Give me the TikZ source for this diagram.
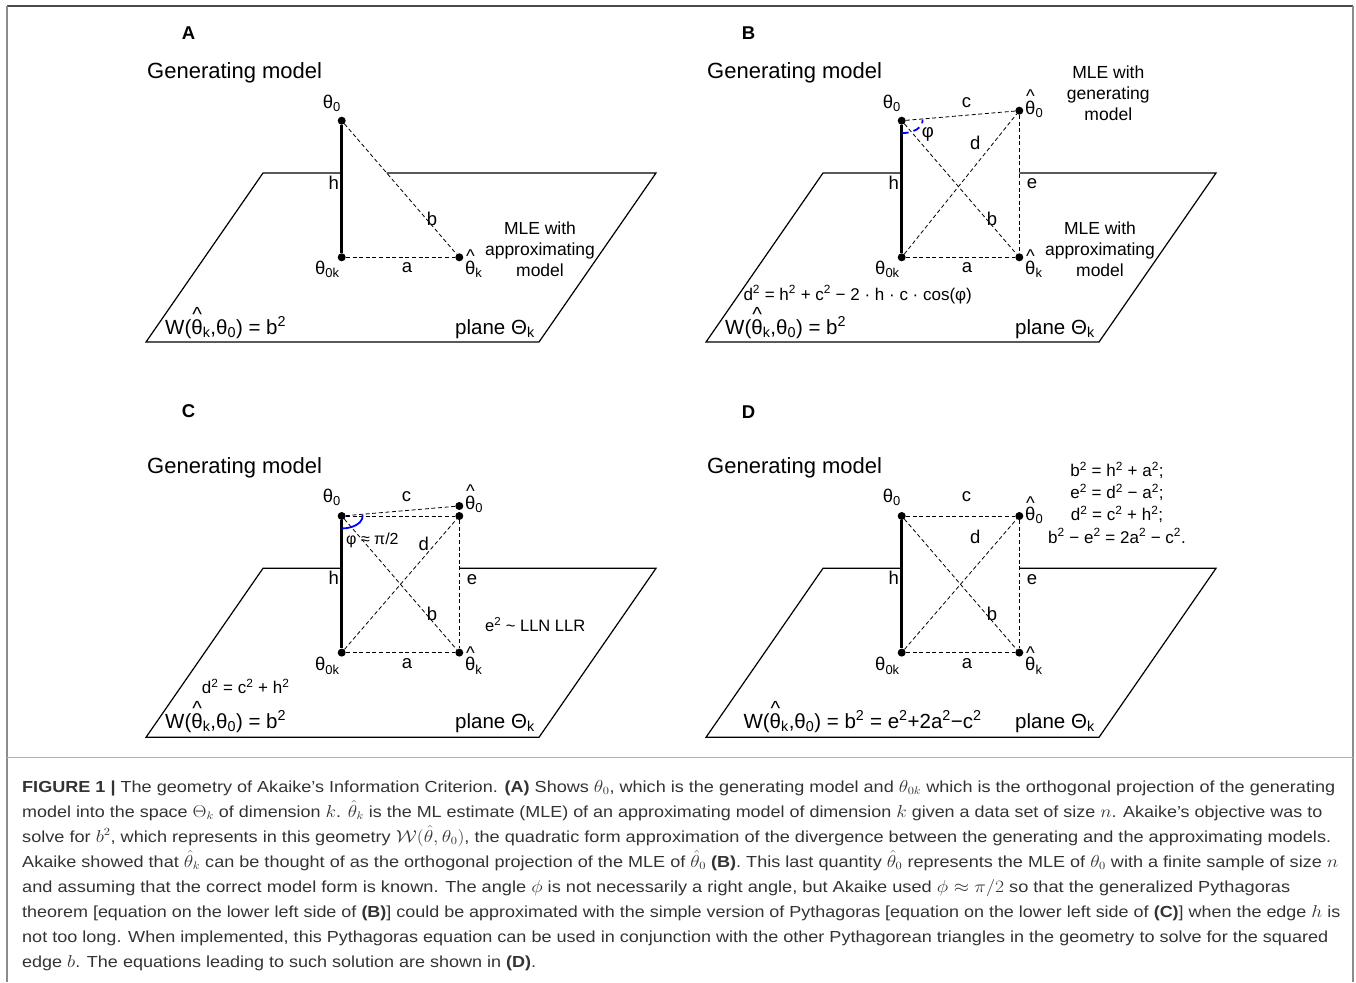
\documentclass[tikz,border=0pt]{standalone}
\usepackage{fontspec}
\setmainfont{Liberation Sans}
\usepackage{amsmath}
\usepackage{graphicx}

\newcommand\thhat{\ooalign{θ\cr\hidewidth\raisebox{0.62em}{\textasciicircum}\hidewidth\cr}}
\newcommand\capfit[2]{\resizebox{#1pt}{\height}{#2}}

\begin{document}
\begin{tikzpicture}[x=1pt, y=-1pt,
  vtx/.style={circle, fill, inner sep=0pt, minimum size=8pt},
  proj/.style={line width=2.6pt},
  dashln/.style={line width=0.8pt, dash pattern=on 4pt off 2.6pt},
  planeln/.style={line width=1.2pt},
  phiarc/.style={blue, line width=1.8pt},
  lbl/.style={anchor=base west, inner sep=0pt, font=\fontsize{18.5}{21}\selectfont},
  botlbl/.style={lbl, font=\fontsize{20.5}{23}\selectfont},
  eqn/.style={lbl, font=\fontsize{17}{22.2}\selectfont},
  genlbl/.style={lbl, font=\fontsize{22}{25}\selectfont},
  paneltag/.style={lbl, font=\fontsize{18.5}{21}\selectfont\bfseries},
  mle/.style={align=center, anchor=north, inner sep=0pt, font=\fontsize{17.5}{21}\selectfont},
  capln/.style={anchor=base west, inner sep=0pt, text=black!80, font=\fontsize{16}{25}\selectfont}]

  \useasboundingbox (0,0) rectangle (1356,982);

  % frame round figure and caption
  \coordinate (fr-tl) at (7,6);
  \coordinate (fr-tr) at (1353,6);
  \coordinate (fr-bl) at (7,982);
  \coordinate (fr-br) at (1353,982);
  \draw [line width=2pt, black!70] (fr-tl) -- (fr-tr);
  \draw [line width=2pt, black!45] (fr-tl) -- (fr-bl);
  \draw [line width=2pt, black!45] (fr-tr) -- (fr-br);
  \draw [line width=1pt, black!30] (fr-tl |- 0,757) -- (fr-tr |- 0,757);

  \node [paneltag] (tagA) at (181.7,40) {A};
  \node [paneltag] (tagB) at (741.7,40) {B};
  \node [paneltag] (tagC) at (181.7,417) {C};
  \node [paneltag] (tagD) at (741.7,418) {D};

  % panel A
  \begin{scope}[name prefix=A-]
    \node [genlbl] (gen) at (147,78.3) {Generating model};
    \node [vtx] (t0) at (341.7,120.7) {};
    \node [vtx] (t0k) at (341.7,257.3) {};
    \node [vtx] (tk) at (459.3,257.3) {};
    \coordinate (p1) at (146,342);
    \coordinate (p2) at (263,173);
    \coordinate (p3) at (656,173);
    \coordinate (p4) at (539,342);
    \coordinate (gap) at (386.7,173);
    \draw [planeln] (t0k |- p2) -- (p2) -- (p1) -- (p4) -- (p3) -- (gap);
    \draw [proj] (t0) -- (t0k);
    \draw [dashln] (t0) -- (tk);
    \draw [dashln] (t0k) -- (tk);
    \node [lbl] (l0) at (322.7,108.5) {θ\textsubscript{0}};
    \node [lbl] (lh) at (328.3,189.5) {h};
    \node [lbl] (lb) at (426.7,225.5) {b};
    \node [lbl] (la) at (401.7,272.8) {a};
    \node [lbl] (l0k) at (315,274) {θ\textsubscript{0k}};
    \node [lbl] (lk) at (465,274) {\thhat\textsubscript{k}};
    \node [mle] (mle) at (540,221.3) {MLE with\\approximating\\model};
    \node [botlbl] (w) at (165,334.5) {W(\thhat\textsubscript{k},θ\textsubscript{0}) = b\textsuperscript{2}};
    \node [botlbl] (pl) at (455,334.5) {plane Θ\textsubscript{k}};
  \end{scope}

  % panel B
  \begin{scope}[shift={(560,0)}, name prefix=B-]
    \node [genlbl] (gen) at (147,78.3) {Generating model};
    \node [vtx] (t0) at (341.7,120.7) {};
    \node [vtx] (t0k) at (341.7,257.3) {};
    \node [vtx] (tk) at (459.3,257.3) {};
    \node [vtx] (th0) at (459.3,110.7) {};
    \coordinate (p1) at (146,342);
    \coordinate (p2) at (263,173);
    \coordinate (p3) at (656,173);
    \coordinate (p4) at (539,342);
    \draw [planeln] (t0k |- p2) -- (p2) -- (p1) -- (p4) -- (p3) -- (tk |- p3);
    \draw [proj] (t0) -- (t0k);
    \draw [dashln] (t0) -- (th0);
    \draw [dashln] (t0) -- (tk);
    \draw [dashln] (t0k) -- (th0);
    \draw [dashln] (th0) -- (tk);
    \draw [dashln] (t0k) -- (tk);
    \draw [phiarc, dash pattern=on 7pt off 5pt] ([yshift=-12.5pt]t0.center)
      arc [start angle=-90, end angle=5, x radius=21pt, y radius=12.5pt];
    \node [lbl] (l0) at (322.7,108.5) {θ\textsubscript{0}};
    \node [lbl] (lc) at (401.7,107.3) {c};
    \node [lbl] (lh0) at (465,114.3) {\thhat\textsubscript{0}};
    \node [lbl] (lphi) at (361.7,137.5) {φ};
    \node [lbl] (ld) at (410,149) {d};
    \node [lbl] (lh) at (328.3,189.5) {h};
    \node [lbl] (le) at (466.7,188.5) {e};
    \node [lbl] (lb) at (426.7,225.5) {b};
    \node [lbl] (la) at (401.7,272.8) {a};
    \node [lbl] (l0k) at (315,274) {θ\textsubscript{0k}};
    \node [lbl] (lk) at (465,274) {\thhat\textsubscript{k}};
    \node [mle] (mleg) at (548.3,65.3) {MLE with\\generating\\model};
    \node [mle] (mle) at (540,221.3) {MLE with\\approximating\\model};
    \node [eqn] (cos) at (183.3,300) {d\textsuperscript{2} = h\textsuperscript{2} + c\textsuperscript{2} − 2 · h · c · cos(φ)};
    \node [botlbl] (w) at (165,334.5) {W(\thhat\textsubscript{k},θ\textsubscript{0}) = b\textsuperscript{2}};
    \node [botlbl] (pl) at (455,334.5) {plane Θ\textsubscript{k}};
  \end{scope}

  % panel C
  \begin{scope}[shift={(0,395.3)}, name prefix=C-]
    \node [genlbl] (gen) at (147,78.3) {Generating model};
    \node [vtx] (t0) at (341.7,120.7) {};
    \node [vtx] (t0k) at (341.7,257.3) {};
    \node [vtx] (tk) at (459.3,257.3) {};
    \node [vtx] (th0) at (459.3,110.7) {};
    \node [vtx] (cr) at (459.3,120.7) {};
    \coordinate (p1) at (146,342);
    \coordinate (p2) at (263,173);
    \coordinate (p3) at (656,173);
    \coordinate (p4) at (539,342);
    \draw [planeln] (t0k |- p2) -- (p2) -- (p1) -- (p4) -- (p3) -- (tk |- p3);
    \draw [proj] (t0) -- (t0k);
    \draw [dashln] (t0) -- (th0);
    \draw [dashln] (t0) -- (cr);
    \draw [dashln] (t0) -- (tk);
    \draw [dashln] (t0k) -- (cr);
    \draw [dashln] (cr) -- (tk);
    \draw [dashln] (t0k) -- (tk);
    \draw [phiarc] ([yshift=-12.5pt]t0.center)
      arc [start angle=-90, end angle=5, x radius=21pt, y radius=12.5pt];
    \node [lbl] (l0) at (322.7,107) {θ\textsubscript{0}};
    \node [lbl] (lc) at (401.7,106.4) {c};
    \node [lbl] (lh0) at (465,114) {\thhat\textsubscript{0}};
    \node [eqn, font=\fontsize{16}{19}\selectfont] (lphi) at (346,148.7) {φ ≈ π/2};
    \node [lbl] (ld) at (418.3,155.4) {d};
    \node [lbl] (lh) at (328.3,189) {h};
    \node [lbl] (le) at (466.7,189) {e};
    \node [lbl] (lb) at (426.7,225) {b};
    \node [eqn, font=\fontsize{16.5}{19}\selectfont] (llr) at (485,236.4) {e\textsuperscript{2} \textasciitilde{} LLN LLR};
    \node [lbl] (la) at (401.7,273) {a};
    \node [lbl] (l0k) at (315,275.5) {θ\textsubscript{0k}};
    \node [lbl] (lk) at (465,275.5) {\thhat\textsubscript{k}};
    \node [eqn] (pyth) at (201.7,298) {d\textsuperscript{2} = c\textsuperscript{2} + h\textsuperscript{2}};
    \node [botlbl] (w) at (165,333) {W(\thhat\textsubscript{k},θ\textsubscript{0}) = b\textsuperscript{2}};
    \node [botlbl] (pl) at (455,333) {plane Θ\textsubscript{k}};
  \end{scope}

  % panel D
  \begin{scope}[shift={(560,395.3)}, name prefix=D-]
    \node [genlbl] (gen) at (147,78.3) {Generating model};
    \node [vtx] (t0) at (341.7,120.7) {};
    \node [vtx] (t0k) at (341.7,257.3) {};
    \node [vtx] (tk) at (459.3,257.3) {};
    \node [vtx] (th0) at (459.3,120.7) {};
    \coordinate (p1) at (146,342);
    \coordinate (p2) at (263,173);
    \coordinate (p3) at (656,173);
    \coordinate (p4) at (539,342);
    \draw [planeln] (t0k |- p2) -- (p2) -- (p1) -- (p4) -- (p3) -- (tk |- p3);
    \draw [proj] (t0) -- (t0k);
    \draw [dashln] (t0) -- (th0);
    \draw [dashln] (t0) -- (tk);
    \draw [dashln] (t0k) -- (th0);
    \draw [dashln] (th0) -- (tk);
    \draw [dashln] (t0k) -- (tk);
    \node [lbl] (l0) at (322.7,107) {θ\textsubscript{0}};
    \node [lbl] (lc) at (401.7,106.4) {c};
    \node [lbl] (lh0) at (465,125.4) {\thhat\textsubscript{0}};
    \node [lbl] (ld) at (410,148) {d};
    \node [lbl] (lh) at (328.3,189) {h};
    \node [lbl] (le) at (466.7,189) {e};
    \node [lbl] (lb) at (426.7,225) {b};
    \node [lbl] (la) at (401.7,273) {a};
    \node [lbl] (l0k) at (315,275.5) {θ\textsubscript{0k}};
    \node [lbl] (lk) at (465,275.5) {\thhat\textsubscript{k}};
    \node [eqn, align=center, anchor=north] (sys) at (557,66.5)
      {b\textsuperscript{2} = h\textsuperscript{2} + a\textsuperscript{2};\\
       e\textsuperscript{2} = d\textsuperscript{2} − a\textsuperscript{2};\\
       d\textsuperscript{2} = c\textsuperscript{2} + h\textsuperscript{2};\\
       b\textsuperscript{2} − e\textsuperscript{2} = 2a\textsuperscript{2} − c\textsuperscript{2}.};
    \node [botlbl] (w) at (183.3,333) {W(\thhat\textsubscript{k},θ\textsubscript{0}) = b\textsuperscript{2} = e\textsuperscript{2}+2a\textsuperscript{2}−c\textsuperscript{2}};
    \node [botlbl] (pl) at (455,333) {plane Θ\textsubscript{k}};
  \end{scope}

  % caption
  \node [capln] (cap1) at (22,792) {\capfit{1313}{\textbf{FIGURE 1 |} The geometry of Akaike’s Information Criterion. \textbf{(A)} Shows $\theta_0$, which is the generating model and $\theta_{0k}$ which is the orthogonal projection of the generating}};
  \node [capln] (cap2) at (22,817) {\capfit{1300}{model into the space $\Theta_k$ of dimension $k$. $\hat{\theta}_k$ is the ML estimate (MLE) of an approximating model of dimension $k$ given a data set of size $n$. Akaike’s objective was to}};
  \node [capln] (cap3) at (22,842) {\capfit{1309}{solve for $b^2$, which represents in this geometry $\mathcal{W}(\hat{\theta},\theta_0)$, the quadratic form approximation of the divergence between the generating and the approximating models.}};
  \node [capln] (cap4) at (22,867) {\capfit{1316}{Akaike showed that $\hat{\theta}_k$ can be thought of as the orthogonal projection of the MLE of $\hat{\theta}_0$ \textbf{(B)}. This last quantity $\hat{\theta}_0$ represents the MLE of $\theta_0$ with a finite sample of size $n$}};
  \node [capln] (cap5) at (22,892) {\capfit{1268}{and assuming that the correct model form is known. The angle $\phi$ is not necessarily a right angle, but Akaike used $\phi\approx\pi/2$ so that the generalized Pythagoras}};
  \node [capln] (cap6) at (22,917) {\capfit{1318}{theorem [equation on the lower left side of \textbf{(B)}] could be approximated with the simple version of Pythagoras [equation on the lower left side of \textbf{(C)}] when the edge $h$ is}};
  \node [capln] (cap7) at (22,942) {\capfit{1306}{not too long. When implemented, this Pythagoras equation can be used in conjunction with the other Pythagorean triangles in the geometry to solve for the squared}};
  \node [capln] (cap8) at (22,967) {\capfit{514}{edge $b$. The equations leading to such solution are shown in \textbf{(D)}.}};
\end{tikzpicture}
\end{document}
